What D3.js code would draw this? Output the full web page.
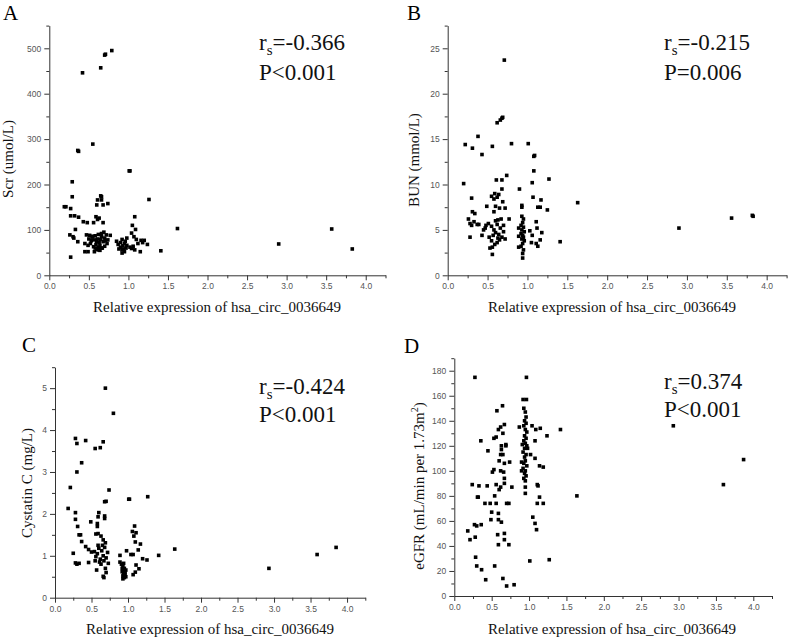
<!DOCTYPE html>
<html>
<head>
<meta charset="utf-8">
<script src="https://cdn.jsdelivr.net/npm/d3@7"></script>
<style>
body{margin:0;background:#fff;}
svg{display:block;}
.tick text{font-family:"Liberation Sans",Arial,sans-serif;font-size:8.5px;fill:#555;}
.domain,.tick line{stroke:#333;}
</style>
</head>
<body>
<svg id="chart" width="790" height="640"></svg>
<script>
// ---------- DATA ----------
const xTicks = [0.0,0.5,1.0,1.5,2.0,2.5,3.0,3.5,4.0];
const xTitle = "Relative expression of hsa_circ_0036649";

const scrTicks = [0,100,200,300,400,500];
const bunTicks = [0,5,10,15,20,25];
const cysTicks = [0,1,2,3,4,5];
const egfrTicks = [0,20,40,60,80,100,120,140,160,180];

const scrData = [
[0.79,495],[0.70,485],[0.71,487],[0.65,457],[0.42,446],[0.55,289],[0.36,275],[0.37,273],[1.01,230],[1.02,230],
[0.29,206],[0.29,173],[1.26,167],[0.19,151],[0.21,151],[0.27,147],
[0.65,175],[0.66,173],[0.61,166],[0.66,166],[0.60,155],[0.68,155],[0.74,158],
[0.27,131],[0.32,131],[0.37,128],[0.43,118],[0.48,116],[0.56,116],[0.59,129],[0.61,123],[0.63,126],[0.68,116],
[1.08,129],[1.05,110],[1.09,101],[0.33,101],[0.26,89],[0.30,85],[0.31,82],[0.36,74],[0.27,40],
[1.41,54],[1.62,103],[3.57,102],[2.90,69],[3.83,58],
[0.47,89],[0.51,88],[0.55,86],[0.58,87],[0.62,90],[0.66,92],[0.69,95],[0.72,89],[0.77,88],
[0.50,80],[0.53,76],[0.57,78],[0.60,75],[0.63,72],[0.65,79],[0.68,74],[0.70,82],[0.74,78],
[0.49,66],[0.52,70],[0.56,63],[0.59,68],[0.62,62],[0.64,66],[0.67,60],[0.70,64],[0.73,70],
[0.45,70],[0.45,52],[0.49,52],[0.57,52],[0.60,57],[0.62,56],[0.66,60],[0.64,55],[0.58,60],
[0.54,84],[0.61,80],[0.66,85],[0.71,76],
[0.85,75],[0.92,79],[0.98,82],[0.87,68],[0.90,62],[0.93,65],[0.95,70],[0.97,60],[0.88,58],[0.92,56],
[0.95,52],[0.92,49],[0.96,75],[0.90,72],[0.94,58],[0.98,66],
[1.04,93],[1.07,85],[1.10,79],[1.16,77],[1.20,77],[1.04,59],[1.08,56],[1.15,52],[1.24,68],[1.02,62],
[1.06,64],[1.12,70],[1.18,72]
];

const bunData = [
[0.71,23.7],[0.69,17.4],[0.68,17.3],[0.66,17.1],[0.62,16.8],[0.38,15.3],[0.22,14.4],[0.31,14.0],[0.56,14.2],
[0.80,14.5],[1.01,14.5],[0.43,13.3],[1.09,13.2],[1.08,13.1],[0.74,11.0],[1.08,11.5],[1.27,10.6],[0.20,10.1],
[0.61,10.5],[0.68,10.5],[1.06,10.2],[0.90,9.5],[0.68,9.5],[0.55,8.7],[0.59,9.0],[0.62,8.6],[0.58,8.4],[0.64,8.9],
[0.30,8.5],[1.07,8.6],[1.17,8.3],[0.93,7.7],[0.93,7.5],[0.69,8.1],[0.72,7.4],[0.49,7.6],[0.60,7.6],[0.31,7.0],
[0.34,6.8],[1.13,7.5],[1.16,7.5],[1.25,7.2],[0.58,7.0],[0.65,7.4],[1.63,8.0],
[0.26,6.2],[0.28,5.7],[0.30,5.5],[0.37,5.6],[0.39,5.6],[0.33,5.9],[0.51,5.7],[0.47,5.2],[0.63,6.1],[0.77,6.2],
[0.93,6.5],[0.95,6.2],[0.94,5.8],[0.92,5.5],[0.95,5.3],[0.93,5.0],[0.96,4.8],[0.92,4.6],[0.94,4.4],[0.95,4.2],
[0.93,4.0],[0.96,3.8],[0.94,3.5],[0.92,3.2],[0.95,2.8],[0.94,2.4],[0.94,1.9],[0.89,3.1],[0.89,5.2],[0.89,4.3],
[1.11,5.9],[1.12,5.2],[1.06,4.4],[1.18,4.7],[1.03,4.9],[1.16,3.9],[1.11,3.5],[1.13,3.2],[1.05,3.6],[1.41,3.7],
[0.28,4.2],[0.43,4.4],[0.52,4.2],[0.55,3.8],[0.56,3.1],[0.53,3.0],[0.59,3.4],[0.62,3.6],[0.56,2.3],
[0.55,5.4],[0.58,5.0],[0.60,4.7],[0.62,5.6],[0.64,4.5],[0.66,5.2],[0.68,4.2],[0.70,4.8],[0.72,4.0],[0.60,6.0],
[0.57,4.4],[0.65,3.9],[0.67,6.2],[0.70,5.5],[0.63,4.1],
[2.90,5.2],[3.56,6.3],[3.82,6.6],[3.83,6.5],[0.45,5.0],[0.48,5.5]
];

const cysData = [
[0.69,5.0],[0.80,4.40],[0.28,3.80],[0.30,3.68],[0.42,3.75],[0.55,3.56],[0.62,3.58],[0.66,3.72],[0.365,3.22],
[0.30,3.00],[0.21,2.63],[0.74,2.57],[0.68,2.29],[0.70,2.30],[1.01,2.35],[1.02,2.35],[1.27,2.41],[0.18,2.13],
[0.28,2.03],[0.28,1.87],[0.31,1.70],[0.33,1.50],[0.35,1.50],[0.365,1.34],[0.49,1.81],[0.60,2.03],[0.59,1.93],
[0.58,1.77],[0.58,1.70],[0.59,1.53],[0.68,1.95],[0.68,1.89],[0.56,1.52],[0.63,1.47],[0.66,1.38],[0.69,1.31],
[1.09,1.71],[1.06,1.58],[1.11,1.55],[1.08,1.47],[1.10,1.33],[1.17,1.28],[1.14,1.14],[0.25,1.06],[0.42,1.22],
[0.46,1.15],[0.50,1.09],
[0.54,1.10],[0.56,0.98],[0.58,1.05],[0.60,1.18],[0.62,0.92],[0.64,1.12],[0.66,1.00],[0.68,1.20],[0.70,0.95],
[0.72,1.08],[0.55,0.88],[0.61,0.85],[0.67,0.88],[0.73,0.82],[0.59,1.25],[0.65,1.25],
[0.28,0.83],[0.30,0.80],[0.33,0.82],[0.46,0.84],[0.89,1.01],[0.98,1.12],[1.04,1.03],[1.07,1.03],[1.20,0.93],
[1.26,0.90],[1.42,1.01],[1.64,1.16],[3.85,1.20],[3.59,1.03],[2.93,0.70],
[0.89,0.85],[0.91,0.80],[0.93,0.75],[0.95,0.70],[0.97,0.66],[0.92,0.62],[0.94,0.58],[0.96,0.55],[0.93,0.52],
[0.95,0.48],[0.97,0.50],[0.92,0.70],[0.94,0.82],[0.96,0.62],[0.93,0.45],[0.95,0.60],
[0.57,0.66],[0.69,0.70],[0.66,0.51],[0.67,0.48],[1.10,0.61],[1.15,0.69],[1.11,0.78],[1.07,0.55],[0.63,0.80],[0.70,0.60]
];

const egfrData = [
[0.276,174.7],[0.965,174.7],[0.92,157],[0.965,157],[0.645,152],[0.57,148],[0.67,137],[0.62,135],[0.59,133],
[0.65,130],[0.87,135],[1.04,136],[1.09,133],[1.15,134],[1.42,133],[1.24,128],[0.355,124],[0.53,126],[0.56,127],
[0.45,116],[0.63,120],[0.63,117],[1.08,124],[0.62,113],[0.60,108],[0.67,106],[0.74,107],[1.02,113],[1.08,110],
[1.14,104],[1.19,103],[0.53,101],[0.51,99],[0.67,94],[0.24,89],[0.33,88],[0.44,88],[0.56,89],[0.62,87],[0.67,90],
[0.77,87],[0.60,85],[0.95,87],[0.95,82],[1.11,89],[1.12,88],[0.31,79],[0.32,79],[0.54,80],[0.41,74],[0.48,74],
[0.56,74],[0.70,74],[0.73,74],[1.11,74],[1.19,74],[1.14,79],[0.50,67],[0.59,66],[1.05,63],[1.08,58],[1.10,53],
[0.49,61],[0.59,61],[0.63,59],[0.27,57],[0.36,57],[0.30,56],[0.18,52],[0.21,45],[0.28,47],[0.67,50],[0.58,49],
[0.67,45],[0.59,41],[0.73,41],[0.285,31],[0.30,24],[0.365,21],[0.54,24],[1.01,28],[1.27,29],[0.42,13],[0.65,14],
[0.70,8],[0.80,9],
[0.93,150],[0.95,147],[0.96,143],[0.94,140],[0.96,138],[0.93,136],[0.95,133],[0.97,131],[0.94,128],[0.96,126],
[0.93,124],[0.95,122],[0.97,120],[0.94,118],[0.92,115],[0.96,113],[0.94,111],[0.95,108],[0.93,106],[0.97,104],
[0.92,102],[0.95,100],[0.94,98],[0.96,96],[0.93,94],[0.95,92],[0.90,100],[0.90,107],[0.98,118],[0.91,121],
[2.93,136],[3.60,89],[3.87,109],[1.64,80],[0.69,120],[0.69,121],[0.65,113],[0.66,99],[0.62,100]
];

const panelLetters = ["A","B","C","D"];
const yTitles = ["Scr (umol/L)","BUN (mmol/L)","Cystatin C (mg/L)","eGFR (mL/min per 1.73m²)"];
const rsTexts = ["=-0.366","=-0.215","=-0.424","=0.374"];
const pTexts = ["P<0.001","P=0.006","P<0.001","P<0.001"];

// ---------- LAYOUT ----------
const panels = [
  {data:scrData, yTicks:scrTicks, yMax:550, yMinor:50,  fmt:d3.format("d"),
   left:49.3, right:385.5, bottom:275.3, top:25.6, letter:[3,19.5], ytx:10, yty:159, xtx:217, xty:312, stat:[259,50,80]},
  {data:bunData, yTicks:bunTicks, yMax:27.5, yMinor:2.5, fmt:d3.format("d"),
   left:447.7, right:786.6, bottom:275.3, top:25.6, letter:[407,19.5], ytx:416, yty:160, xtx:612, xty:312, stat:[664,50,79.5]},
  {data:cysData, yTicks:cysTicks, yMax:5.5, yMinor:0.5, fmt:d3.format("d"),
   left:55, right:365.3, bottom:597.7, top:367.2, letter:[22,352], ytx:28.5, yty:483, xtx:210, xty:634, stat:[259,394,422]},
  {data:egfrData, yTicks:egfrTicks, yMax:190, yMinor:10, fmt:d3.format("d"),
   left:454.3, right:772, bottom:596, top:358.2, letter:[404,353], ytx:421, yty:486, xtx:612, xty:634, stat:[664,388.5,417]}
];

const svg = d3.select("#chart");
const serif = "'Liberation Serif','Times New Roman',serif";

panels.forEach((p,i)=>{
  const x = d3.scaleLinear().domain([0,4.25]).range([p.left,p.right]);
  const y = d3.scaleLinear().domain([0,p.yMax]).range([p.bottom,p.top]);
  const g = svg.append("g");

  // minor ticks
  const xMinor = d3.range(0,4.25+1e-9,0.25).filter(v=>Math.abs(v*2-Math.round(v*2))>1e-6);
  g.append("g").attr("transform",`translate(0,${p.bottom})`)
    .call(d3.axisBottom(x).tickValues(xMinor).tickSize(3).tickFormat(""))
    .call(s=>s.select(".domain").remove());
  const yMinorVals = d3.range(0,p.yMax+1e-9,p.yMinor).filter(v=>!p.yTicks.some(t=>Math.abs(t-v)<1e-9));
  g.append("g").attr("transform",`translate(${p.left},0)`)
    .call(d3.axisLeft(y).tickValues(yMinorVals).tickSize(3).tickFormat(""))
    .call(s=>s.select(".domain").remove());

  // major axes
  g.append("g").attr("transform",`translate(0,${p.bottom})`)
    .call(d3.axisBottom(x).tickValues(xTicks).tickSize(5).tickSizeOuter(0).tickFormat(d3.format(".1f")).tickPadding(3));
  g.append("g").attr("transform",`translate(${p.left},0)`)
    .call(d3.axisLeft(y).tickValues(p.yTicks).tickSize(5).tickSizeOuter(0).tickFormat(p.fmt).tickPadding(3));

  // points
  const s = 3.6;
  g.append("g").selectAll("rect").data(p.data).join("rect")
    .attr("x",d=>x(d[0])-s/2).attr("y",d=>y(d[1])-s/2)
    .attr("width",s).attr("height",s).attr("fill","#000");

  // panel letter
  svg.append("text").attr("x",p.letter[0]).attr("y",p.letter[1])
    .attr("font-family",serif).attr("font-size",21).text(panelLetters[i]);

  // axis titles
  svg.append("text").attr("x",p.xtx).attr("y",p.xty).attr("text-anchor","middle")
    .attr("font-family",serif).attr("font-size",15).attr("fill","#111").text(xTitle);
  const yt = svg.append("text").attr("transform",`translate(${p.ytx},${p.yty}) rotate(-90)`)
    .attr("text-anchor","middle").attr("dominant-baseline","middle")
    .attr("font-family",serif).attr("font-size",15).attr("fill","#111");
  if(i===3){
    yt.append("tspan").text("eGFR (mL/min per 1.73m");
    yt.append("tspan").attr("font-size",10).attr("dy",-5).text("2");
    yt.append("tspan").attr("dy",5).text(")");
  } else yt.text(yTitles[i]);

  // stats
  const st = svg.append("text").attr("x",p.stat[0]).attr("y",p.stat[1])
    .attr("font-family",serif).attr("font-size",23).attr("fill","#111");
  st.append("tspan").text("r");
  st.append("tspan").attr("font-size",15).attr("dy",5).text("s");
  st.append("tspan").attr("dy",-5).text(rsTexts[i]);
  svg.append("text").attr("x",p.stat[0]).attr("y",p.stat[2])
    .attr("font-family",serif).attr("font-size",23).attr("fill","#111").text(pTexts[i]);
});
</script>
</body>
</html>
